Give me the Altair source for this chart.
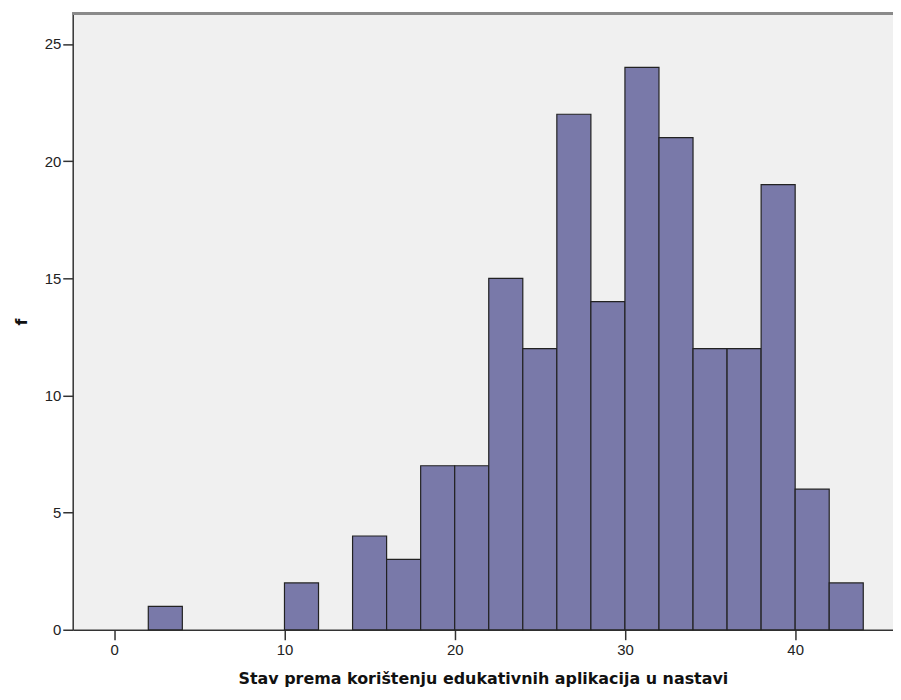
import altair as alt
import pandas as pd

bin_start = [2, 10, 14, 16, 18, 20, 22, 24, 26, 28, 30, 32, 34, 36, 38, 40, 42]
counts = [1, 2, 4, 3, 7, 7, 15, 12, 22, 14, 24, 21, 12, 12, 19, 6, 2]
bin_width = 2
x_ticks = [0, 10, 20, 30, 40]
y_ticks = [0, 5, 10, 15, 20, 25]

df = pd.DataFrame({
    "start": bin_start,
    "end": [s + bin_width for s in bin_start],
    "f": counts,
})

W, H = 824, 619
FONT = "Liberation Sans"
TFONT = "DejaVu Sans"

xscale = alt.Scale(domain=[-2.44, -2.44 + W / 17.1], nice=False, zero=False)
yscale = alt.Scale(domain=[0, 26.3], nice=False)

bars = alt.Chart(df).mark_bar(
    fill="#7979a9", stroke="#222222", strokeWidth=1.2, opacity=1
).encode(
    x=alt.X("start:Q", scale=xscale,
            axis=alt.Axis(values=x_ticks, title="Stav prema korištenju edukativnih aplikacija u nastavi",
                          grid=False, tickSize=10, labelPadding=3, titlePadding=13,
                          domainColor="#333333", tickColor="#333333", domainWidth=1.5, tickWidth=1.5)),
    x2="end:Q",
    y=alt.Y("f:Q", scale=yscale,
            axis=alt.Axis(values=y_ticks, title="f", grid=False, tickSize=10, labelPadding=2,
                          titlePadding=15, titleAngle=-90,
                          domainColor="#333333", tickColor="#333333", domainWidth=1.5, tickWidth=1.5)),
    y2=alt.datum(0),
)

top = alt.Chart(df).mark_rule(color="#8a8a8a", strokeWidth=2).encode(
    x=alt.value(0), x2=alt.value(W + 10), y=alt.value(0)
)

chart = alt.layer(bars, top).properties(
    width=W, height=H,
    autosize=alt.AutoSizeParams(type="none"),
    padding={"left": 65, "top": 4, "right": 0, "bottom": 61},
).configure_view(
    fill="#f0f0f0", stroke=None, clip=False
).configure_axis(
    labelFont=FONT, labelFontSize=15, labelColor="#222222",
    titleFont=TFONT, titleFontSize=16, titleFontWeight="bold", titleColor="#111111",
)

chart.save("out.html", embed_options={"renderer": "svg", "actions": False})
